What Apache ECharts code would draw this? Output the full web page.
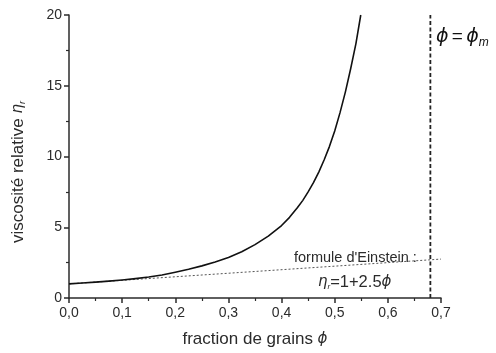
<!DOCTYPE html>
<html>
<head>
<meta charset="utf-8">
<script src="https://cdn.jsdelivr.net/npm/echarts@6/dist/echarts.min.js"></script>
<style>
  html, body { margin: 0; padding: 0; background: #fff; }
  #chart { width: 496px; height: 353px; }
</style>
</head>
<body>
<div id="chart"></div>
<script>
// Relative viscosity of a suspension versus solid fraction
const phi = [0, 0.025, 0.05, 0.075, 0.1, 0.125, 0.15, 0.175, 0.2, 0.225, 0.25, 0.275, 0.3, 0.325,
             0.35, 0.375, 0.4, 0.415, 0.43, 0.44, 0.45, 0.46, 0.47, 0.48, 0.49, 0.5, 0.51, 0.52,
             0.53, 0.54, 0.549];
const etaR = [1.0, 1.06, 1.12, 1.19, 1.27, 1.37, 1.48, 1.63, 1.82, 2.03, 2.27, 2.55, 2.87, 3.27,
              3.77, 4.37, 5.12, 5.7, 6.4, 6.9, 7.5, 8.15, 8.9, 9.75, 10.7, 11.8, 13.1, 14.55,
              16.2, 18.0, 20];

// Einstein's dilute limit, eta_r = 1 + 2.5 phi
const einsteinPhi = [0, 0.7];
const einsteinEta = [1, 2.75];

// maximum packing fraction
const phiMax = 0.68;

const xTicks = { min: 0, max: 0.7, interval: 0.1 };
const yTicks = { min: 0, max: 20, interval: 5 };

const FONT = 'Liberation Sans, Arial, sans-serif';
const GREEK = 'DejaVu Sans, sans-serif';
const INK = '#2b2b2b';

const chart = echarts.init(document.getElementById('chart'), null, { renderer: 'canvas' });

const axisCommon = {
  axisLine: { show: true, onZero: false, lineStyle: { color: INK, width: 1.5 } },
  axisTick: { show: true, inside: false, length: 5, lineStyle: { color: INK, width: 1.5 } },
  minorTick: { show: true, splitNumber: 2, length: 3, lineStyle: { color: INK, width: 1.2 } },
  splitLine: { show: false },
  axisLabel: { color: INK, fontFamily: FONT, fontSize: 14 }
};

chart.setOption({
  animation: false,
  backgroundColor: '#fff',
  grid: { left: 69, right: 55, top: 15, bottom: 52 },
  xAxis: Object.assign({}, axisCommon, {
    type: 'value',
    min: xTicks.min, max: xTicks.max, interval: xTicks.interval,
    axisLabel: Object.assign({}, axisCommon.axisLabel, {
      margin: 8,
      formatter: v => v.toFixed(1).replace('.', ',')
    }),
    name: '{t|fraction de grains }{p|ϕ}',
    nameLocation: 'middle',
    nameGap: 33,
    nameTextStyle: {
      rich: {
        t: { fontFamily: FONT, fontSize: 17, color: INK },
        p: { fontFamily: GREEK, fontStyle: 'italic', fontSize: 15, color: INK }
      }
    }
  }),
  yAxis: Object.assign({}, axisCommon, {
    type: 'value',
    min: yTicks.min, max: yTicks.max, interval: yTicks.interval,
    axisLabel: Object.assign({}, axisCommon.axisLabel, { margin: 7 })
  }),
  graphic: [
    {
      type: 'text',
      x: 18, y: 172,
      rotation: Math.PI / 2,
      style: {
        text: '{t|viscosité relative }{e|η}{s|r}',
        align: 'center',
        verticalAlign: 'middle',
        rich: {
          t: { fontFamily: FONT, fontSize: 17, fill: INK },
          e: { fontFamily: GREEK, fontStyle: 'italic', fontSize: 15, fill: INK },
          s: { fontFamily: FONT, fontStyle: 'italic', fontSize: 9, fill: INK, padding: [9, 0, 0, 0] }
        }
      }
    },
    {
      type: 'text',
      x: 436, y: 37,
      style: {
        text: '{p|ϕ} {q|=} {p|ϕ}{m|m}',
        verticalAlign: 'middle',
        rich: {
          p: { fontFamily: GREEK, fontStyle: 'italic', fontSize: 19, fill: '#111' },
          q: { fontFamily: FONT, fontSize: 19, fill: '#111' },
          m: { fontFamily: FONT, fontStyle: 'italic', fontSize: 12, fill: '#111', padding: [12, 0, 0, 0] }
        }
      }
    },
    {
      type: 'text',
      x: 294, y: 258,
      style: {
        text: "formule d'Einstein :",
        verticalAlign: 'middle',
        fontFamily: FONT, fontSize: 14.5, fill: INK
      }
    },
    {
      type: 'text',
      x: 318, y: 282,
      style: {
        text: '{e|η}{s|r}{t|=1+2.5}{p|ϕ}',
        verticalAlign: 'middle',
        rich: {
          e: { fontFamily: GREEK, fontStyle: 'italic', fontSize: 15, fill: INK },
          s: { fontFamily: FONT, fontStyle: 'italic', fontSize: 8, fill: INK, padding: [10, 0, 0, 0] },
          t: { fontFamily: FONT, fontSize: 16.5, fill: INK },
          p: { fontFamily: GREEK, fontStyle: 'italic', fontSize: 15, fill: INK }
        }
      }
    }
  ],
  series: [
    {
      name: 'einstein',
      type: 'line',
      data: einsteinPhi.map((x, i) => [x, einsteinEta[i]]),
      showSymbol: false,
      symbol: 'none',
      clip: false,
      lineStyle: { color: '#555', width: 1, type: [2, 2] },
      z: 2
    },
    {
      name: 'viscosite',
      type: 'line',
      data: phi.map((x, i) => [x, etaR[i]]),
      smooth: false,
      showSymbol: false,
      symbol: 'none',
      lineStyle: { color: '#111', width: 1.6, join: 'round' },
      z: 3
    },
    {
      name: 'phiMax',
      type: 'line',
      data: [[phiMax, yTicks.min], [phiMax, yTicks.max]],
      showSymbol: false,
      symbol: 'none',
      lineStyle: { color: '#222', width: 1.8, type: [4, 2.5] },
      z: 1
    }
  ]
});
</script>
</body>
</html>
